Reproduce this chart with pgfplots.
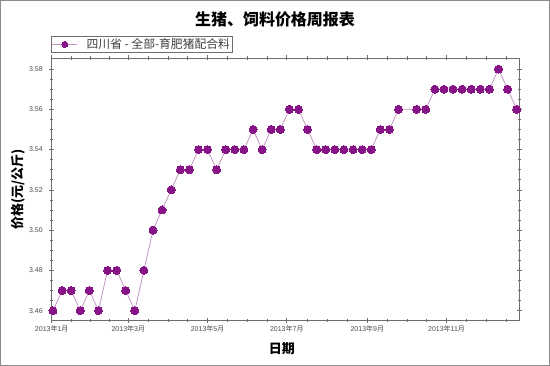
\documentclass[border=0pt]{standalone}
\usepackage{fontspec}
\setmainfont{Liberation Sans}
\newfontfamily\cjk{Noto Sans CJK SC}
\usepackage{pgfplots}
\pgfplotsset{compat=1.18}
\definecolor{mk}{RGB}{135,20,135}
\definecolor{ln}{RGB}{195,150,195}
\definecolor{ax}{RGB}{110,110,110}
\newcommand{\ym}[2]{#1{\cjk 年}#2{\cjk 月}}
\begin{document}
\begin{tikzpicture}
\path (0,0) rectangle (550pt,366pt);
\draw[color=ax!80, line width=1pt] (0.5pt,0.5pt) rectangle (549.5pt,365.5pt);
\node[font=\cjk\bfseries\fontsize{16}{19}\selectfont] at (275pt,347pt) {生猪、饲料价格周报表};
\begin{axis}[
  at={(51.7pt,45.3pt)}, anchor=south west,
  scale only axis, width=467.6pt, height=262.7pt,
  xmin=0, xmax=360, ymin=3.455, ymax=3.5855,
  clip=false,
  xtick={0,59,120,181,243,304},
  xticklabels={\ym{2013}{1},\ym{2013}{3},\ym{2013}{5},\ym{2013}{7},\ym{2013}{9},\ym{2013}{11}},
  minor xtick={14.75,29.5,44.25,74.25,89.5,104.75,135.25,150.5,165.75,196.5,212,227.5,258.25,273.5,288.75,319.25,334.5,349.75},
  ytick={3.46,3.48,3.50,3.52,3.54,3.56,3.58},
  minor y tick num=3,
  yticklabel style={xshift=-3pt, /pgf/number format/.cd, fixed, fixed zerofill, precision=2, assume math mode=true},
  tick align=center,
  major tick length=5pt, minor tick length=3.5pt,
  axis line style={ax},
  every tick/.style={ax, line width=0.6pt},
  tick label style={font=\fontsize{7}{8}\selectfont, text=black!70},
  xticklabel style={yshift=1pt},
  xlabel={\cjk 日期},
  ylabel={\cjk 价格(元/公斤)},
  xlabel style={font=\fontsize{13}{15}\selectfont\bfseries, at={(axis description cs:0.4925,-0.108)}, anchor=center},
  ylabel style={font=\fontsize{13}{15}\selectfont\bfseries, at={(axis description cs:-0.072,0.5)}, anchor=center},
  legend style={at={(axis description cs:-0.0015,1.019)}, anchor=south west, draw=ax, line width=0.6pt,
    font=\cjk\fontsize{11.8}{12.5}\selectfont, inner sep=0.6pt, row sep=0pt, text=black!75},
  legend image code/.code={\draw[#1, mark size=3pt, mark repeat=2, mark phase=2] plot coordinates {(0pt,0pt) (12.5pt,0pt) (25pt,0pt)};},
]
\addplot[color=ln, line width=0.8pt, mark=*, mark size=4pt, mark options={draw=mk, fill=mk, line width=0pt}]
coordinates {
(1,3.46) (8,3.47) (15,3.47) (22,3.46) (29,3.47) (36,3.46) (43,3.48) (50,3.48) (57,3.47) (64,3.46)
(71,3.48) (78,3.50) (85,3.51) (92,3.52) (99,3.53) (106,3.53) (113,3.54) (120,3.54) (127,3.53) (134,3.54)
(141,3.54) (148,3.54) (155,3.55) (162,3.54) (169,3.55) (176,3.55) (183,3.56) (190,3.56) (197,3.55) (204,3.54)
(211,3.54) (218,3.54) (225,3.54) (232,3.54) (239,3.54) (246,3.54) (253,3.55) (260,3.55) (267,3.56)
(281,3.56) (288,3.56) (295,3.57) (302,3.57) (309,3.57) (316,3.57) (323,3.57) (330,3.57) (337,3.57)
(344,3.58) (351,3.57) (358,3.56)
};
\addlegendentry{\hspace{7pt}四川省 - 全部-育肥猪配合料\hspace{2pt}}
\end{axis}
\end{tikzpicture}
\end{document}
